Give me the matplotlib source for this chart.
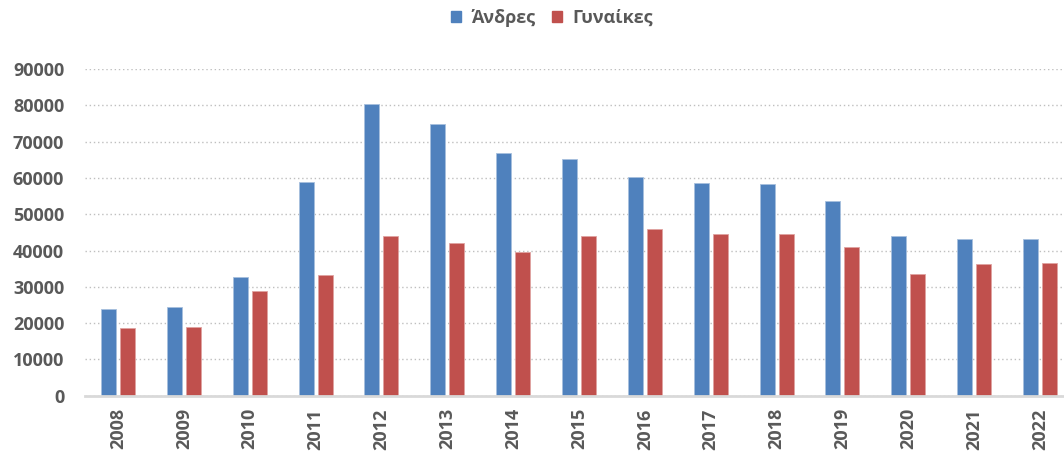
import numpy as np
import matplotlib.pyplot as plt
from matplotlib.patches import Patch

# δεδομένα (εκτίμηση από την εικόνα)
years = ['2008', '2009', '2010', '2011', '2012', '2013', '2014', '2015',
         '2016', '2017', '2018', '2019', '2020', '2021', '2022']
men = [23900, 24400, 32700, 58800, 80400, 74800, 66900, 65200,
       60200, 58500, 58300, 53600, 44000, 43100, 43300]
women = [18700, 18800, 28800, 33200, 44000, 42000, 39700, 43900,
         45900, 44600, 44500, 41000, 33500, 36200, 36600]
yticks = list(range(0, 90001, 10000))

blue = '#4f81bd'
red = '#c0504d'
txt = '#595959'

plt.rcParams['font.family'] = ['Open Sans', 'DejaVu Sans']

fig = plt.figure(figsize=(10.64, 4.55), dpi=100)
# το διάγραμμα συνεχίζει λίγο έξω από τη δεξιά άκρη, όπως στο πρωτότυπο
ax = fig.add_axes([85 / 1064, 59.3 / 455, 988 / 1064, 326.7 / 455])

x = np.arange(len(years))
w = 0.228
off = 0.144
ax.bar(x - off, men, w, color=blue, edgecolor='#a7c0de', linewidth=0.6, label='Άνδρες')
ax.bar(x + off, women, w, color=red, edgecolor='#e0a3a1', linewidth=0.6, label='Γυναίκες')

ax.set_xlim(-0.5, len(years) - 0.5)
ax.set_ylim(0, 90000)
ax.set_yticks(yticks)
ax.set_yticklabels([str(v) for v in yticks])
ax.set_xticks(x)
ax.set_xticklabels(years, rotation=90)
ax.tick_params(axis='both', length=0, labelsize=13, labelcolor=txt)
ax.tick_params(axis='y', pad=15)
ax.tick_params(axis='x', pad=9)
for lab in ax.get_xticklabels() + ax.get_yticklabels():
    lab.set_fontweight('bold')

ax.grid(axis='y', linestyle=(0, (1, 2)), color='#bfbfbf', linewidth=1)
ax.set_axisbelow(True)
for s in ['top', 'right', 'left']:
    ax.spines[s].set_visible(False)
ax.spines['bottom'].set_color('#d9d9d9')
ax.spines['bottom'].set_linewidth(2)

handles = [Patch(color=blue), Patch(color=red)]
fig.legend(handles, ['Άνδρες', 'Γυναίκες'], loc='center', bbox_to_anchor=(552 / 1064, 1 - 18 / 455),
           ncol=2, frameon=False, handlelength=0.55, handleheight=0.6, handletextpad=0.6,
           columnspacing=0.9, prop={'weight': 'bold', 'size': 13}, labelcolor=txt)

fig.savefig('out.png', dpi=100)
